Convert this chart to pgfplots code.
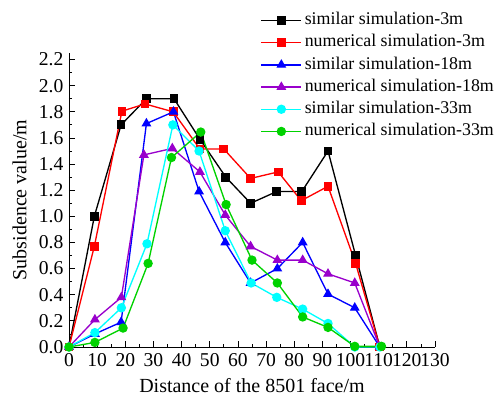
\documentclass[border=0pt]{standalone}
\usepackage{pgfplots}
\pgfplotsset{compat=1.18}
\usepackage{fontspec}
\setmainfont{Liberation Serif}
\definecolor{mypurple}{RGB}{153,0,204}
\definecolor{mygreen}{RGB}{0,210,0}
\definecolor{mycyan}{RGB}{0,255,255}
\begin{document}
\fontsize{15}{17}\selectfont
\begin{tikzpicture}
\useasboundingbox (-51.75pt,-37.5pt) rectangle (323.25pt,260.25pt);
\begin{axis}[
  at={(0,0)}, anchor=south west,
  scale only axis, width=274.5pt, height=220.5pt,
  xmin=0, xmax=130, ymin=0, ymax=2.25,
  axis x line*=bottom, axis y line*=left,
  axis line style={line width=0.6pt},
  xtick={0,10,...,130}, minor x tick num=1,
  ytick={0,0.2,...,2.2}, minor y tick num=1,
  tick align=inside,
  major tick length=4.5pt, minor tick length=2.5pt,
  tick style={line width=0.6pt, black},
  yticklabel style={xshift=1pt, /pgf/number format/.cd, fixed, fixed zerofill, precision=1},
  /pgf/number format/assume math mode=true,
  ticklabel style={font=\fontsize{14.7}{17}\selectfont},
  xticklabel style={inner xsep=0pt},
  xlabel={Distance of the 8501 face/m},
  ylabel={Subsidence value/m},
  label style={font=\fontsize{15}{17}\selectfont},
  xlabel style={yshift=1.5pt},
  ylabel style={yshift=-1pt},
  every axis plot/.append style={line width=1pt},
  legend style={at={(0.5227,1.140)}, anchor=north west, draw=none, fill=none,
    font=\fontsize{13.4}{15}\selectfont, row sep=4.15pt, inner sep=0pt,
    nodes={inner ysep=0pt, inner xsep=2pt, text height=9.5pt, text depth=3pt}},
  legend cell align=left,
  legend image code/.code={\draw[mark repeat=2,mark phase=2] plot coordinates {(0cm,0cm) (0.53cm,0cm) (1.06cm,0cm)};},
  clip=false,
]
\addplot[black, mark=square*, mark size=2.8pt] coordinates {
(0,0) (9,1.0) (18.5,1.70) (27.5,1.90) (37.3,1.90) (46.5,1.59) (55.7,1.30) (64.5,1.10) (73.8,1.19) (82.7,1.19) (92,1.50) (101.8,0.70) (110.4,0)};
\addlegendentry{similar simulation-3m}
\addplot[red, mark=square*, mark size=2.8pt] coordinates {
(0,0) (9,0.77) (18.8,1.805) (27,1.86) (37,1.80) (46.5,1.515) (55,1.515) (64.5,1.29) (74.3,1.34) (82.5,1.12) (92,1.23) (101.8,0.64) (110.4,0)};
\addlegendentry{numerical simulation-3m}
\addplot[blue, mark=triangle*, mark size=3.3pt] coordinates {
(0,0) (9.2,0.10) (18.5,0.19) (27.5,1.71) (37.1,1.80) (46.2,1.19) (55.5,0.80) (64.5,0.49) (74,0.60) (83,0.80) (92,0.405) (101.5,0.30) (110.4,0)};
\addlegendentry{similar simulation-18m}
\addplot[mypurple, mark=triangle*, mark size=3.3pt] coordinates {
(0,0) (9.2,0.21) (18.6,0.38) (26.6,1.47) (36.7,1.52) (46.5,1.34) (55.5,1.01) (64.5,0.77) (74,0.665) (83,0.665) (92,0.56) (101.5,0.49) (110.4,0)};
\addlegendentry{numerical simulation-18m}
\addplot[mycyan, mark=*, mark size=3pt] coordinates {
(0,0) (9.2,0.11) (18.6,0.30) (27.7,0.79) (36.9,1.70) (46.2,1.50) (55.5,0.89) (64.7,0.49) (73.8,0.38) (83,0.29) (92,0.18) (101.5,0.0) (110.4,0)};
\addlegendentry{similar simulation-33m}
\addplot[mygreen, mark=*, mark size=3pt] coordinates {
(0,0) (9.2,0.035) (19.2,0.145) (28.1,0.64) (36.4,1.45) (46.8,1.645) (55.8,1.09) (65,0.665) (74,0.49) (83,0.23) (92,0.15) (101.5,0.005) (111,0.005)};
\addlegendentry{numerical simulation-33m}
\end{axis}
\end{tikzpicture}
\end{document}
